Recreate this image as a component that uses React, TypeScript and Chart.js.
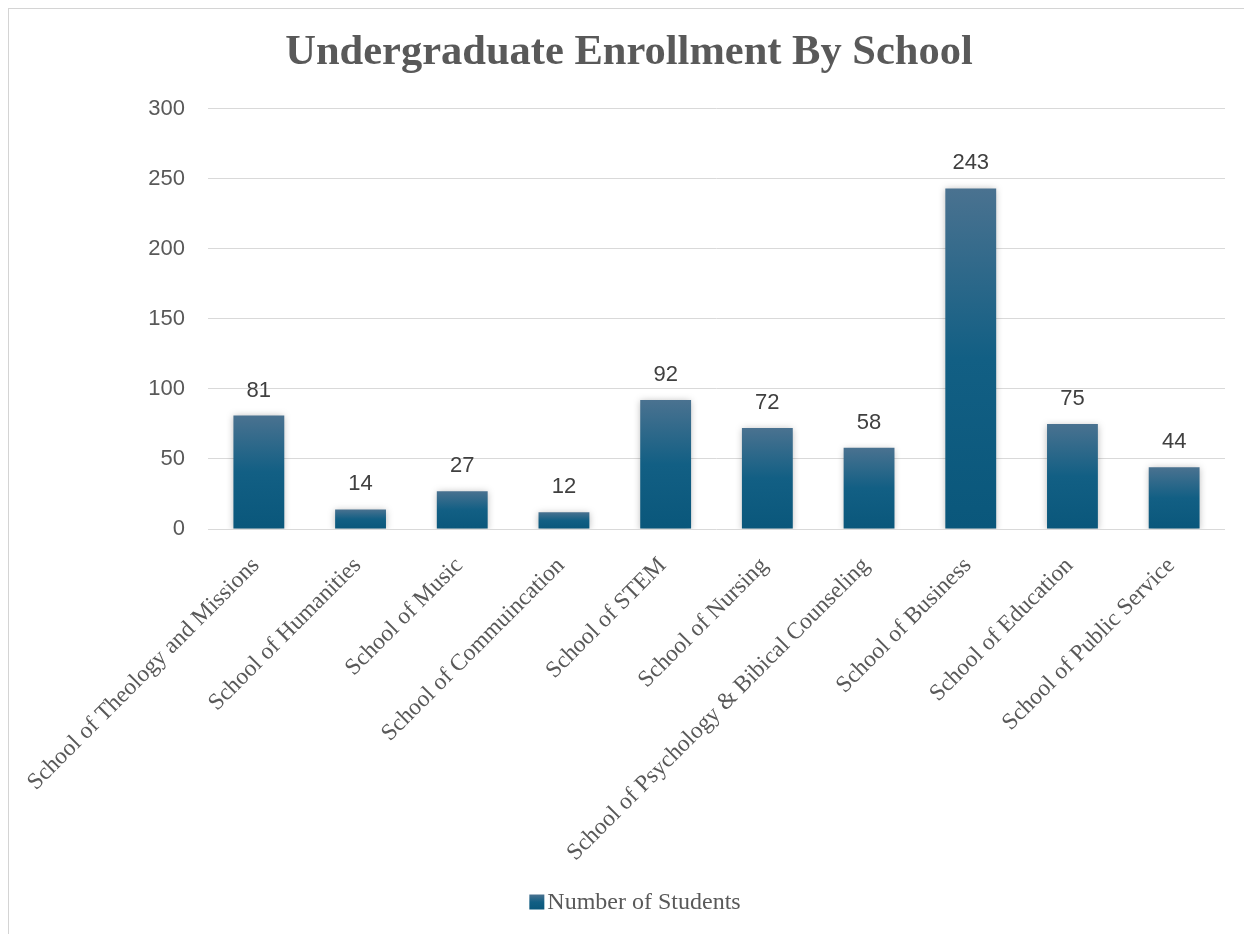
import { useEffect, useRef } from "react";
import { Chart, registerables } from "chart.js";

Chart.register(...registerables);

const categories = [
  "School of Theology and Missions",
  "School of Humanities",
  "School of Music",
  "School of Commuincation",
  "School of STEM",
  "School of Nursing",
  "School of Psychology & Bibical Counseling",
  "School of Business",
  "School of Education",
  "School of Public Service",
];
const students = [81, 14, 27, 12, 92, 72, 58, 243, 75, 44];
const seriesName = "Number of Students";
const chartTitle = "Undergraduate Enrollment By School";
const yMin = 0;
const yMax = 300;
const yStep = 50;

const SERIF = '"Liberation Serif", "Times New Roman", serif';
const SANS = '"Liberation Sans", Arial, sans-serif';

function barGradient(ctx: CanvasRenderingContext2D, top: number, base: number) {
  const g = ctx.createLinearGradient(0, top, 0, base);
  g.addColorStop(0, "#4a7290");
  g.addColorStop(0.5, "#125f84");
  g.addColorStop(1, "#0a577b");
  return g;
}

const frameBorderPlugin = {
  id: "frameBorder",
  beforeDraw(chart: any) {
    const ctx = chart.ctx;
    ctx.save();
    ctx.fillStyle = "#ffffff";
    ctx.fillRect(0, 0, chart.width, chart.height);
    ctx.fillStyle = "#d4d4d4";
    ctx.fillRect(1, 1, 2, chart.height);
    ctx.fillRect(1, 1, chart.width, 2);
    ctx.restore();
  },
};

const shadowPlugin = {
  id: "barShadow",
  beforeDatasetDraw(chart: any) {
    const ctx = chart.ctx;
    ctx.save();
    ctx.shadowColor = "rgba(0,0,0,0.28)";
    ctx.shadowBlur = 7;
    ctx.shadowOffsetX = 0;
    ctx.shadowOffsetY = 1;
  },
  afterDatasetDraw(chart: any) {
    chart.ctx.restore();
  },
};

const valueLabelPlugin = {
  id: "valueLabels",
  afterDatasetsDraw(chart: any) {
    const ctx = chart.ctx;
    const meta = chart.getDatasetMeta(0);
    ctx.save();
    ctx.font = `22px ${SANS}`;
    ctx.fillStyle = "#404040";
    ctx.textAlign = "center";
    ctx.textBaseline = "middle";
    meta.data.forEach((el: any, i: number) => {
      ctx.fillText(String(students[i]), el.x, el.y - 25);
    });
    ctx.restore();
  },
};

const customLegendPlugin = {
  id: "customLegend",
  afterDraw(chart: any) {
    const ctx = chart.ctx;
    const text = chart.data.datasets[0].label;
    ctx.save();
    ctx.font = `24px ${SERIF}`;
    const tw = ctx.measureText(text).width;
    const box = 15;
    const gap = 3;
    const total = box + gap + tw;
    const cx = chart.width / 2 + 6;
    const cy = 896;
    const x0 = cx - total / 2;
    ctx.fillStyle = barGradient(ctx, cy - box / 2, cy + box / 2);
    ctx.fillRect(x0, cy - box / 2, box, box);
    ctx.fillStyle = "#595959";
    ctx.textAlign = "left";
    ctx.textBaseline = "middle";
    ctx.fillText(text, x0 + box + gap, cy + 1);
    ctx.restore();
  },
};

export default function App() {
  const ref = useRef<HTMLCanvasElement>(null);

  useEffect(() => {
    if (!ref.current) return;
    const chart = new Chart(ref.current, {
      type: "bar",
      data: {
        labels: categories,
        datasets: [
          {
            label: seriesName,
            data: students,
            backgroundColor: (c: any) => {
              const ch = c.chart;
              const y = ch.scales && ch.scales.y;
              if (!y || c.type !== "data" || !c.parsed) return "#1a5f84";
              const top = y.getPixelForValue(c.parsed.y);
              const base = y.getPixelForValue(0);
              if (!isFinite(top) || !isFinite(base) || top === base) return "#1a5f84";
              return barGradient(ch.ctx, top, base);
            },
            borderWidth: 0,
            barPercentage: 0.5,
            categoryPercentage: 1,
            yAxisID: "y",
          },
        ],
      },
      options: {
        responsive: false,
        animation: false,
        layout: { padding: { left: 0, right: 0, top: 0, bottom: 53 } },
        plugins: {
          title: {
            display: true,
            text: chartTitle,
            color: "#595959",
            font: { family: SERIF, size: 42.5, weight: "bold" },
            padding: { top: 22, bottom: 29.5 },
          },
          legend: { display: false },
          tooltip: { enabled: false },
        },
        scales: {
          x: {
            grid: { display: false, drawTicks: false },
            border: { display: false },
            ticks: {
              color: "#595959",
              font: { family: SERIF, size: 23.5 },
              maxRotation: 45,
              minRotation: 45,
              autoSkip: false,
              padding: 23,
              labelOffset: -3,
            },
            afterFit: (s: any) => {
              s.height = 352;
              s.paddingLeft = 0;
              s.paddingRight = 0;
            },
          },
          y: {
            position: "left",
            min: yMin,
            max: yMax,
            grid: { color: "#d9d9d9", lineWidth: 1, drawTicks: false },
            border: { display: false },
            ticks: {
              stepSize: yStep,
              color: "#595959",
              font: { family: SANS, size: 22 },
              padding: 23,
            },
            afterFit: (s: any) => {
              s.width = 202;
            },
          },
          yRight: {
            position: "right",
            display: true,
            grid: { display: false, drawTicks: false },
            border: { display: false },
            ticks: { display: false },
            afterFit: (s: any) => {
              s.width = 27;
            },
          },
        },
      },
      plugins: [frameBorderPlugin, shadowPlugin, valueLabelPlugin, customLegendPlugin],
    } as any);
    return () => chart.destroy();
  }, []);

  return (
    <canvas
      ref={ref}
      width={1246}
      height={928}
      style={{ display: "block", marginLeft: -2, marginTop: -2 }}
    />
  );
}
